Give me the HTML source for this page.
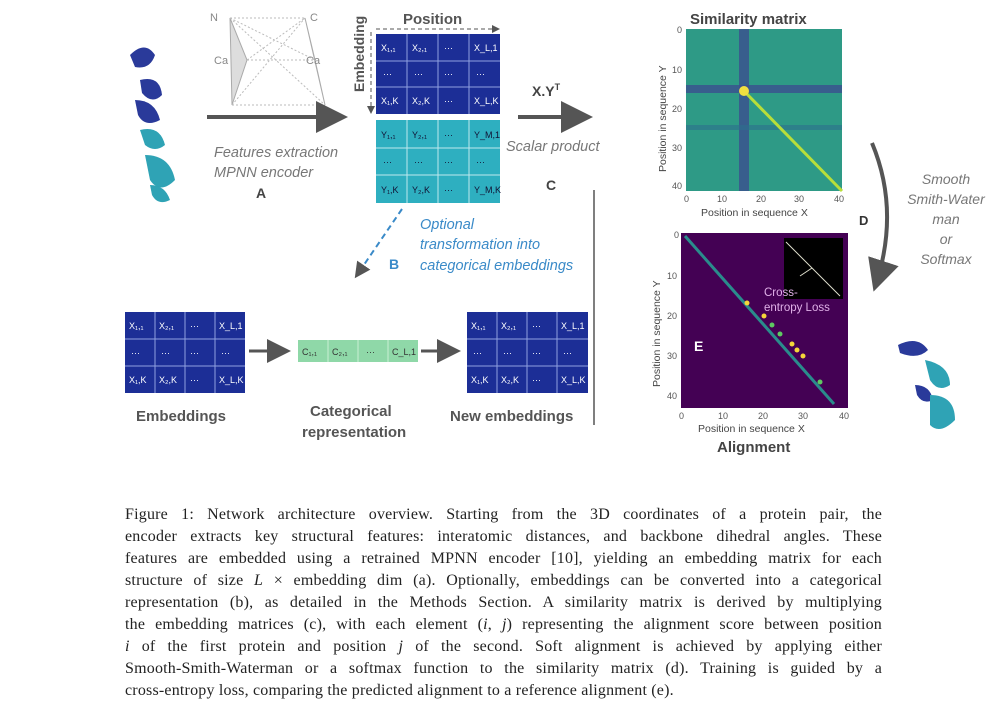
<!DOCTYPE html>
<html><head><meta charset="utf-8"><style>
body{margin:0;background:#fff;width:1000px;height:717px;overflow:hidden}
.cap{position:absolute;left:125px;top:504px;width:757px;font-family:"Liberation Serif",serif;font-size:16px;letter-spacing:0.2px;line-height:22px;color:#222}
.cap div{text-align:justify;text-align-last:justify;white-space:nowrap;overflow:visible}
.cap div.l{text-align-last:left}
</style></head><body>
<svg width="1000" height="717" style="position:absolute;left:0;top:0" font-family="Liberation Sans, sans-serif">
<defs>
<marker id="ah" markerWidth="8" markerHeight="8" refX="6" refY="4" orient="auto"><path d="M0,0 L8,4 L0,8 Z" fill="#555"/></marker>
</defs>
<g fill="#2a3a9a"><path d="M130,55 q15,-15 25,0 q-5,15 -20,12z"/><path d="M140,80 q20,-5 22,15 q-10,10 -20,-2z"/><path d="M135,100 q20,0 25,20 q-15,8 -22,-5z"/></g>
<g fill="#2fa3b5"><path d="M140,130 q20,-5 25,15 q-10,8 -20,0z"/><path d="M145,155 q25,0 30,25 q-15,15 -25,0z"/><path d="M150,185 q15,0 20,15 q-12,6 -18,-5z"/></g>
<polygon points="230,18 247,60 232,105" fill="#ddd" stroke="#aaa"/>
<polygon points="305,18 315,60 325,105" fill="#ddd" stroke="#aaa"/>
<g stroke="#bbb" stroke-dasharray="2,2" fill="none"><path d="M230,18 L305,18 M230,18 L325,105 M247,60 L315,60 M232,105 L305,18 M232,105 L325,105 M247,60 L305,18 M230,18 L315,60"/></g>
<g font-size="11" fill="#888"><text x="210" y="21">N</text><text x="310" y="21">C</text><text x="214" y="64">Ca</text><text x="306" y="64">Ca</text></g>
<line x1="207" y1="117" x2="340" y2="117" stroke="#555" stroke-width="4" marker-end="url(#ah)"/>
<text x="214" y="157" font-size="14.5" font-style="italic" fill="#777">Features extraction</text>
<text x="214" y="177" font-size="14.5" font-style="italic" fill="#777">MPNN encoder</text>
<text x="256" y="198" font-size="14" font-weight="bold" fill="#444">A</text>
<text x="403" y="24" font-size="15" font-weight="bold" fill="#555">Position</text>
<line x1="376" y1="29" x2="498" y2="29" stroke="#555" stroke-dasharray="4,3" marker-end="url(#ah)"/>
<text transform="translate(364,92) rotate(-90)" font-size="14" font-weight="bold" fill="#555">Embedding</text>
<line x1="371" y1="32" x2="371" y2="112" stroke="#555" stroke-dasharray="4,3" marker-end="url(#ah)"/>
<g font-size="9" fill="#fff">
<rect x="376" y="34" width="124" height="80" fill="#1c2e96"/>
<path d="M407,34V114M438,34V114M469,34V114M376,61H500M376,87H500" stroke="#8fa0e0" stroke-width="1"/>
<text x="381" y="51">X₁,₁</text><text x="412" y="51">X₂,₁</text><text x="444" y="51">···</text><text x="474" y="51">X_L,1</text>
<text x="383" y="77">···</text><text x="414" y="77">···</text><text x="444" y="77">···</text><text x="476" y="77">···</text>
<text x="381" y="104">X₁,K</text><text x="412" y="104">X₂,K</text><text x="444" y="104">···</text><text x="474" y="104">X_L,K</text>
</g>
<g font-size="9" fill="#113">
<rect x="376" y="120" width="124" height="83" fill="#2eafc0"/>
<path d="M407,120V203M438,120V203M469,120V203M376,148H500M376,175H500" stroke="#bfe8ee" stroke-width="1"/>
<text x="381" y="138">Y₁,₁</text><text x="412" y="138">Y₂,₁</text><text x="444" y="138">···</text><text x="474" y="138">Y_M,1</text>
<text x="383" y="165">···</text><text x="414" y="165">···</text><text x="444" y="165">···</text><text x="476" y="165">···</text>
<text x="381" y="193">Y₁,K</text><text x="412" y="193">Y₂,K</text><text x="444" y="193">···</text><text x="474" y="193">Y_M,K</text>
</g>
<text x="532" y="96" font-size="14" font-weight="bold" fill="#444">X.Y<tspan font-size="9" dy="-6">T</tspan></text>
<line x1="518" y1="117" x2="585" y2="117" stroke="#555" stroke-width="4" marker-end="url(#ah)"/>
<text x="506" y="151" font-size="14.5" font-style="italic" fill="#777">Scalar product</text>
<text x="546" y="190" font-size="14" font-weight="bold" fill="#444">C</text>
<line x1="594" y1="190" x2="594" y2="425" stroke="#555" stroke-width="1.5"/>
<line x1="402" y1="209" x2="357" y2="275" stroke="#3a8ac8" stroke-width="2" stroke-dasharray="6,4" marker-end="url(#ah)"/>
<text x="389" y="269" font-size="14" font-weight="bold" fill="#3a8ac8">B</text>
<g font-size="14.5" font-style="italic" fill="#3a8ac8"><text x="420" y="229">Optional</text><text x="420" y="249">transformation into</text><text x="420" y="270">categorical embeddings</text></g>
<g font-size="9" fill="#fff">
<rect x="125" y="312" width="120" height="81" fill="#1c2e96"/>
<path d="M155,312V393M185,312V393M215,312V393M125,339H245M125,366H245" stroke="#8fa0e0"/>
<text x="129" y="329">X₁,₁</text><text x="159" y="329">X₂,₁</text><text x="190" y="329">···</text><text x="219" y="329">X_L,1</text>
<text x="131" y="356">···</text><text x="161" y="356">···</text><text x="190" y="356">···</text><text x="221" y="356">···</text>
<text x="129" y="383">X₁,K</text><text x="159" y="383">X₂,K</text><text x="190" y="383">···</text><text x="219" y="383">X_L,K</text>
<rect x="467" y="312" width="121" height="81" fill="#1c2e96"/>
<path d="M497,312V393M527,312V393M557,312V393M467,339H588M467,366H588" stroke="#8fa0e0"/>
<text x="471" y="329">X₁,₁</text><text x="501" y="329">X₂,₁</text><text x="532" y="329">···</text><text x="561" y="329">X_L,1</text>
<text x="473" y="356">···</text><text x="503" y="356">···</text><text x="532" y="356">···</text><text x="563" y="356">···</text>
<text x="471" y="383">X₁,K</text><text x="501" y="383">X₂,K</text><text x="532" y="383">···</text><text x="561" y="383">X_L,K</text>
</g>
<rect x="298" y="340" width="120" height="22" fill="#8fd8a8"/>
<path d="M328,340V362M358,340V362M388,340V362" stroke="#c8f0d4"/>
<g font-size="9" fill="#333"><text x="302" y="355">C₁,₁</text><text x="332" y="355">C₂,₁</text><text x="366" y="355">···</text><text x="392" y="355">C_L,1</text></g>
<line x1="249" y1="351" x2="285" y2="351" stroke="#555" stroke-width="3" marker-end="url(#ah)"/>
<line x1="421" y1="351" x2="455" y2="351" stroke="#555" stroke-width="3" marker-end="url(#ah)"/>
<g font-size="15" font-weight="bold" fill="#555"><text x="136" y="421">Embeddings</text><text x="310" y="416">Categorical</text><text x="302" y="437">representation</text><text x="450" y="421">New embeddings</text></g>
<text x="690" y="24" font-size="15" font-weight="bold" fill="#444">Similarity matrix</text>
<rect x="686" y="29" width="156" height="162" fill="#2e9a86"/>
<rect x="739" y="29" width="10" height="162" fill="#3b4f8e" opacity=".8"/>
<rect x="686" y="85" width="156" height="8" fill="#3b4f8e" opacity=".8"/>
<rect x="686" y="125" width="156" height="5" fill="#2d6f8e" opacity=".6"/>
<line x1="742" y1="89" x2="842" y2="191" stroke="#b8de3a" stroke-width="3"/>
<circle cx="744" cy="91" r="5" fill="#f0e040"/>
<g font-size="9" fill="#555"><text x="677" y="33">0</text><text x="672" y="73">10</text><text x="672" y="112">20</text><text x="672" y="151">30</text><text x="672" y="189">40</text>
<text x="684" y="202">0</text><text x="717" y="202">10</text><text x="756" y="202">20</text><text x="794" y="202">30</text><text x="834" y="202">40</text></g>
<text x="701" y="216" font-size="10.5" fill="#444">Position in sequence X</text>
<text transform="translate(666,172) rotate(-90)" font-size="10.5" fill="#444">Position in sequence Y</text>
<rect x="681" y="233" width="167" height="175" fill="#440154"/>
<line x1="685" y1="236" x2="834" y2="404" stroke="#2a8c8c" stroke-width="3"/>
<g fill="#f5d63a"><circle cx="747" cy="303" r="2.5"/><circle cx="764" cy="316" r="2.5"/><circle cx="792" cy="344" r="2.5"/><circle cx="797" cy="350" r="2.5"/><circle cx="803" cy="356" r="2.5"/></g>
<g fill="#5ec962"><circle cx="772" cy="325" r="2.5"/><circle cx="780" cy="334" r="2.5"/><circle cx="820" cy="382" r="2.5"/></g>
<rect x="784" y="238" width="59" height="61" fill="#000"/>
<path d="M786,242 L840,296 M812,268 L800,276" stroke="#ddc" stroke-width="1"/>
<text x="764" y="296" font-size="11.5" fill="#e0b0e8">Cross-</text>
<text x="764" y="311" font-size="11.5" fill="#e0b0e8">entropy Loss</text>
<text x="694" y="351" font-size="14" font-weight="bold" fill="#fff">E</text>
<g font-size="9" fill="#555"><text x="674" y="238">0</text><text x="667" y="279">10</text><text x="667" y="319">20</text><text x="667" y="359">30</text><text x="667" y="399">40</text>
<text x="679" y="419">0</text><text x="718" y="419">10</text><text x="758" y="419">20</text><text x="798" y="419">30</text><text x="839" y="419">40</text></g>
<text x="698" y="432" font-size="10.5" fill="#444">Position in sequence X</text>
<text transform="translate(660,387) rotate(-90)" font-size="10.5" fill="#444">Position in sequence Y</text>
<text x="717" y="452" font-size="15" font-weight="bold" fill="#444">Alignment</text>
<path d="M872,143 Q900,210 876,284" fill="none" stroke="#555" stroke-width="4" marker-end="url(#ah)"/>
<text x="859" y="225" font-size="13" font-weight="bold" fill="#333">D</text>
<g font-size="14" font-style="italic" fill="#777" text-anchor="middle"><text x="946" y="184">Smooth</text><text x="946" y="204">Smith-Water</text><text x="946" y="224">man</text><text x="946" y="244">or</text><text x="946" y="264">Softmax</text></g>
<g fill="#2a3a9a"><path d="M898,345 q20,-10 30,5 q-10,10 -28,3z"/><path d="M915,385 q15,0 18,15 q-10,5 -16,-5z"/></g>
<g fill="#2fa3b5"><path d="M925,360 q25,5 25,25 q-12,8 -20,-5z"/><path d="M930,395 q25,0 25,25 q-15,15 -25,5z"/></g>
</svg>
<div class="cap">
<div>Figure 1: Network architecture overview. Starting from the 3D coordinates of a protein pair, the</div>
<div>encoder extracts key structural features: interatomic distances, and backbone dihedral angles. These</div>
<div>features are embedded using a retrained MPNN encoder [10], yielding an embedding matrix for each</div>
<div>structure of size <i>L</i> × embedding dim (a). Optionally, embeddings can be converted into a categorical</div>
<div>representation (b), as detailed in the Methods Section. A similarity matrix is derived by multiplying</div>
<div>the embedding matrices (c), with each element (<i>i</i>, <i>j</i>) representing the alignment score between position</div>
<div><i>i</i> of the first protein and position <i>j</i> of the second. Soft alignment is achieved by applying either</div>
<div>Smooth-Smith-Waterman or a softmax function to the similarity matrix (d). Training is guided by a</div>
<div class="l">cross-entropy loss, comparing the predicted alignment to a reference alignment (e).</div>
</div>
</body></html>
